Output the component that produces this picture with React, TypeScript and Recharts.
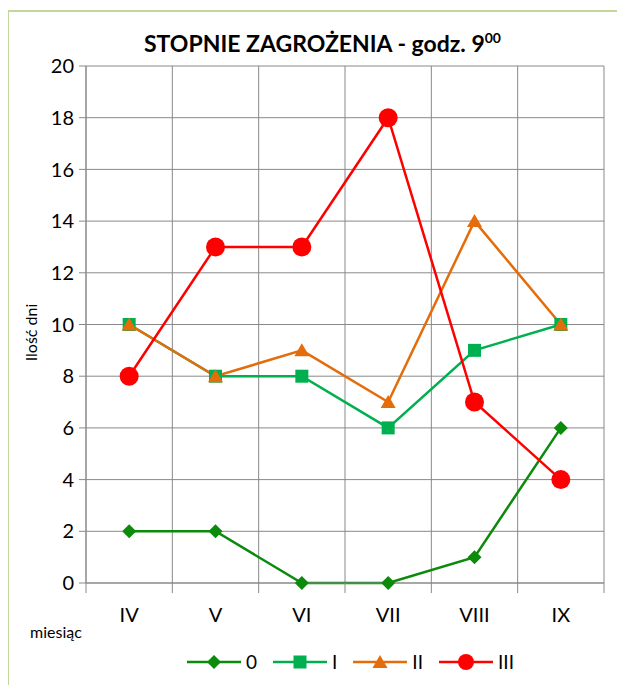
import React from "react"
import { LineChart, Line, XAxis, YAxis, CartesianGrid } from "recharts"

const months = ["IV", "V", "VI", "VII", "VIII", "IX"]
const series0 = [2, 2, 0, 0, 1, 6]
const seriesI = [10, 8, 8, 6, 9, 10]
const seriesII = [10, 8, 9, 7, 14, 10]
const seriesIII = [8, 13, 13, 18, 7, 4]
const yTicks = [0, 2, 4, 6, 8, 10, 12, 14, 16, 18, 20]

const FONT = "Lato, 'Noto Sans', sans-serif"
const GRID = "#898989"

const series = [
  { key: "s0", name: "0", color: "#0b8a0b", shape: "diamond" },
  { key: "s1", name: "I", color: "#00b050", shape: "square" },
  { key: "s2", name: "II", color: "#e46c0a", shape: "triangle" },
  { key: "s3", name: "III", color: "#ff0000", shape: "circle" },
]

const data = months.map((m, i) => ({
  x: i + 0.5,
  month: m,
  s0: series0[i],
  s1: seriesI[i],
  s2: seriesII[i],
  s3: seriesIII[i],
}))

const boundaryTicks = [...months.map((_, i) => i), months.length]
const centerTicks = months.map((_, i) => i + 0.5)

function Marker({ shape, cx, cy, color, small }: { shape: string; cx: number; cy: number; color: string; small?: boolean }) {
  if (shape === "diamond") {
    const r = 7
    return <polygon points={`${cx},${cy - r} ${cx + r},${cy} ${cx},${cy + r} ${cx - r},${cy}`} fill={color} />
  }
  if (shape === "square") {
    return <rect x={cx - 6.5} y={cy - 6.5} width={13} height={13} fill={color} />
  }
  if (shape === "triangle") {
    return <polygon points={`${cx},${cy - 7} ${cx + 7.5},${cy + 6} ${cx - 7.5},${cy + 6}`} fill={color} />
  }
  return <circle cx={cx} cy={cy} r={small ? 8 : 9.5} fill={color} />
}

function makeDot(shape: string, color: string, name: string) {
  return (props: any) => (
    <Marker key={`${name}-${props.index}`} shape={shape} cx={props.cx} cy={props.cy} color={color} />
  )
}

function YLabel(props: any) {
  const vb = props.viewBox
  const x = vb.x + 30
  const y = vb.y + vb.height / 2 + 8
  return (
    <text x={x} y={y} transform={`rotate(-90, ${x}, ${y})`} textAnchor="middle" dominantBaseline="central"
      fontSize={16} fill="#000" fontFamily={FONT}>
      Ilość dni
    </text>
  )
}

export default function App() {
  return (
    <div style={{ position: "relative", width: 625, height: 693, margin: -8, overflow: "hidden", background: "#fff", fontFamily: FONT }}>
      <div style={{ position: "absolute", left: 7, top: 10, width: 700, height: 800, borderLeft: "2px solid #c3d69b", borderTop: "2px solid #c3d69b" }} />
      <div style={{ position: "absolute", left: 0, width: 645, top: 28, textAlign: "center", fontWeight: 700, fontSize: 23, color: "#000", lineHeight: "30px" }}>
        STOPNIE ZAGROŻENIA - godz. 9<sup style={{ fontSize: 14, lineHeight: 0 }}>00</sup>
      </div>
      <div style={{ position: "absolute", left: 0, top: 0 }}>
        <LineChart width={625} height={693} data={data} margin={{ top: 66, right: 21, bottom: 60, left: 0 }}>
          <CartesianGrid stroke={GRID} strokeWidth={1} />
          <XAxis xAxisId={0} dataKey="x" type="number" domain={[0, months.length]} allowDataOverflow ticks={boundaryTicks}
            tickFormatter={() => ""} tickSize={10} height={10} stroke={GRID} interval={0} />
          <XAxis xAxisId="lbl" dataKey="x" type="number" domain={[0, months.length]} allowDataOverflow ticks={centerTicks} interval={0}
            tickFormatter={(v: number) => months[Math.floor(v)]} axisLine={false} tickLine={false}
            tickMargin={9} height={40} tick={{ fontSize: 20, fill: "#000", fontFamily: FONT }} />
          <YAxis domain={[0, 20]} ticks={yTicks} interval={0} width={86} tickSize={7} tickMargin={5}
            stroke={GRID} tick={{ fontSize: 20, fill: "#000", fontFamily: FONT }} label={<YLabel />} />
          {series.map((s) => (
            <Line key={s.key} dataKey={s.key} name={s.name} stroke={s.color} strokeWidth={2.5}
              dot={makeDot(s.shape, s.color, s.name)} activeDot={false} isAnimationActive={false} />
          ))}
        </LineChart>
      </div>
      <div style={{ position: "absolute", left: 30, top: 622, fontSize: 16, color: "#000" }}>miesiąc</div>
      <div style={{ position: "absolute", left: 187, top: 650, display: "flex", alignItems: "center", fontSize: 19, color: "#000" }}>
        {series.map((s) => (
          <div key={s.key} style={{ display: "flex", alignItems: "center", marginRight: 16 }}>
            <svg width={54} height={22}>
              <line x1={0} y1={11} x2={54} y2={11} stroke={s.color} strokeWidth={2.5} />
              <Marker shape={s.shape} cx={27} cy={11} color={s.color} small />
            </svg>
            <span style={{ marginLeft: 5 }}>{s.name}</span>
          </div>
        ))}
      </div>
    </div>
  )
}
